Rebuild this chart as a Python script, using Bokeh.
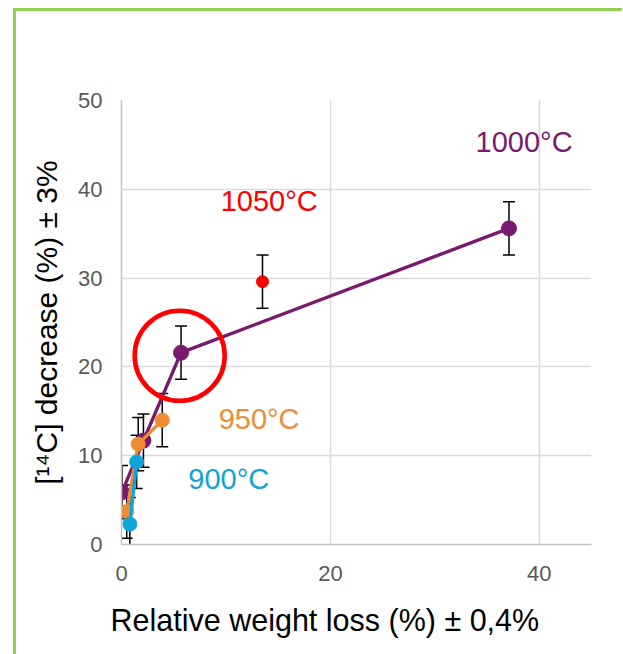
from bokeh.plotting import figure
from bokeh.models import ColumnDataSource, Whisker, TeeHead, FixedTicker, Range1d, Title
from bokeh.embed import file_html
from bokeh.resources import INLINE
from bokeh.core.properties import value

# ---- data ----
x_ticks = [0, 20, 40]
y_ticks = [0, 10, 20, 30, 40, 50]

t1000_x = [0.05, 2.1, 5.7, 37.1]
t1000_y = [5.9, 11.7, 21.6, 35.6]
t1050_x = [13.5]
t1050_y = [29.6]
t950_x = [0.5, 1.6, 3.9]
t950_y = [3.7, 11.3, 14.0]
t900_x = [0.8, 1.45]
t900_y = [2.3, 9.3]
y_err = 3.0

label_text = ["1000°C", "1050°C", "950°C", "900°C"]
label_x = [33.9, 9.5, 9.3, 6.4]
label_y = [45.3, 38.7, 14.1, 7.4]

highlight_x = [5.57]
highlight_y = [21.26]

x_title = "Relative weight loss (%) ± 0,4%"
y_title = "[¹⁴C] decrease (%) ± 3%"

C1000 = "#7a1a6e"
C1050 = "#ff0000"
C950 = "#ef8b33"
C900 = "#10a3da"
label_colors = [C1000, C1050, C950, C900]
GREEN = "#92D050"

FONT = "Liberation Sans"

p = figure(width=622, height=646, x_range=Range1d(0, 45), y_range=Range1d(0, 50),
           output_backend="svg", toolbar_location=None,
           min_border_left=121, min_border_top=92, min_border_right=31, min_border_bottom=110)
p.styles = {
    "position": "relative", "top": "8px",
    "background-color": "white",
    "background-image": f"linear-gradient({GREEN},{GREEN}), linear-gradient({GREEN},{GREEN})",
    "background-size": "3px 100%, 100% 3px",
    "background-position": "13px 0px, 13px 0px",
    "background-repeat": "no-repeat",
}
p.outline_line_color = None
p.background_fill_color = "white"
p.border_fill_color = None

p.xaxis.ticker = FixedTicker(ticks=x_ticks)
p.yaxis.ticker = FixedTicker(ticks=y_ticks)
p.xgrid.ticker = FixedTicker(ticks=x_ticks)
p.ygrid.ticker = FixedTicker(ticks=y_ticks)
p.grid.grid_line_color = "#d9d9d9"
p.grid.grid_line_width = 1.5

p.axis.axis_line_color = "#c4c4c4"
p.axis.axis_line_width = 1.5
p.axis.major_tick_line_color = None
p.axis.minor_tick_line_color = None
p.axis.major_label_text_font = FONT
p.axis.major_label_text_font_size = "22px"
p.axis.major_label_text_color = "#595959"
p.xaxis.major_label_standoff = 15
p.yaxis.major_label_standoff = 13
p.yaxis.axis_label = y_title
p.yaxis.axis_label_text_font = FONT
p.yaxis.axis_label_text_font_size = "30px"
p.yaxis.axis_label_text_font_style = "normal"
p.yaxis.axis_label_text_color = "black"
p.yaxis.axis_label_standoff = 12

xt = Title(text=x_title, align="left", offset=-11, text_font=FONT, text_font_size="30.5px",
           text_font_style="normal", text_color="black", standoff=34)
p.add_layout(xt, "below")


def series(xs, ys, color, size, line=True):
    src = ColumnDataSource(dict(x=xs, y=ys,
                                lo=[v - y_err for v in ys], hi=[v + y_err for v in ys]))
    w = Whisker(source=src, base="x", lower="lo", upper="hi", line_color="black",
                line_width=1.5, level="underlay",
                upper_head=TeeHead(size=12, line_color="black", line_width=1.5),
                lower_head=TeeHead(size=12, line_color="black", line_width=1.5))
    p.add_layout(w)
    if line:
        p.line("x", "y", source=src, line_color=color, line_width=3.4)
    p.scatter("x", "y", source=src, size=size, fill_color=color, line_color=color)


series(t1000_x, t1000_y, C1000, 15)
series(t1050_x, t1050_y, C1050, 12, line=False)
series(t950_x, t950_y, C950, 14)
series(t900_x, t900_y, C900, 14)

p.scatter(highlight_x, highlight_y, marker="circle", size=90, fill_color=None,
          line_color="#ff0000", line_width=4.6)

lab = ColumnDataSource(dict(x=label_x, y=label_y, t=label_text, c=label_colors))
p.text("x", "y", text="t", source=lab, text_color="c", text_font=value(FONT),
       text_font_size="29px", text_baseline="alphabetic", text_align="left")

open("out.html", "w").write(file_html(p, INLINE))
